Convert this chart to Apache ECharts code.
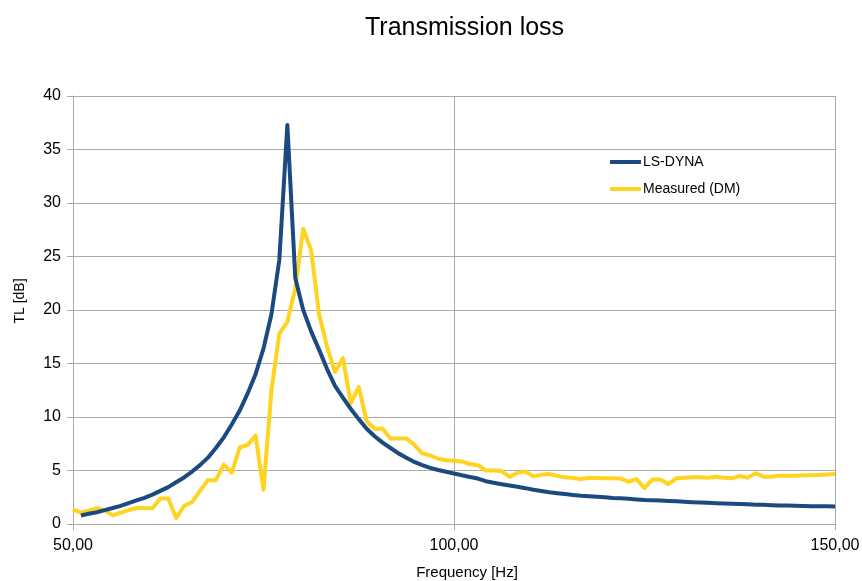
<!DOCTYPE html>
<html>
<head>
<meta charset="utf-8">
<script src="https://cdn.jsdelivr.net/npm/echarts@6/dist/echarts.min.js"></script>
<style>html,body{margin:0;padding:0;background:#fff}#c{width:862px;height:581px}</style>
</head>
<body>
<div id="c"></div>
<script>
const frequencies = [50.00,51.04,52.08,53.13,54.17,55.21,56.25,57.29,58.33,59.38,60.42,61.46,62.50,63.54,64.58,65.63,66.67,67.71,68.75,69.79,70.83,71.88,72.92,73.96,75.00,76.04,77.08,78.13,79.17,80.21,81.25,82.29,83.33,84.38,85.42,86.46,87.50,88.54,89.58,90.63,91.67,92.71,93.75,94.79,95.83,96.88,97.92,98.96,100.00,101.04,102.08,103.13,104.17,105.21,106.25,107.29,108.33,109.38,110.42,111.46,112.50,113.54,114.58,115.63,116.67,117.71,118.75,119.79,120.83,121.88,122.92,123.96,125.00,126.04,127.08,128.13,129.17,130.21,131.25,132.29,133.33,134.38,135.42,136.46,137.50,138.54,139.58,140.63,141.67,142.71,143.75,144.79,145.83,146.88,147.92,148.96,150.00];
const lsDyna = [null,0.8,0.95,1.1,1.3,1.5,1.7,1.95,2.2,2.45,2.75,3.1,3.45,3.9,4.35,4.9,5.5,6.2,7.1,8.1,9.3,10.6,12.2,14.0,16.4,19.6,24.7,37.3,23.0,20.0,18.0,16.3,14.5,12.9,11.8,10.75,9.8,8.9,8.2,7.6,7.1,6.6,6.2,5.8,5.5,5.25,5.05,4.88,4.72,4.55,4.4,4.25,4.0,3.85,3.72,3.6,3.48,3.35,3.2,3.08,2.97,2.88,2.8,2.72,2.65,2.6,2.55,2.5,2.44,2.4,2.35,2.3,2.25,2.22,2.19,2.16,2.12,2.08,2.04,2.01,1.98,1.95,1.92,1.89,1.86,1.84,1.81,1.79,1.76,1.74,1.72,1.7,1.68,1.67,1.66,1.65,1.64];
const measured = [1.37,1.05,1.25,1.47,1.3,0.8,1.05,1.3,1.5,1.5,1.47,2.38,2.38,0.55,1.68,2.05,3.1,4.1,4.1,5.55,4.8,7.15,7.4,8.25,3.2,12.5,17.8,18.9,22.0,27.6,25.6,19.6,16.6,14.2,15.5,11.3,12.8,9.6,8.9,8.9,8.0,8.0,8.0,7.4,6.6,6.4,6.1,5.95,5.9,5.85,5.6,5.5,5.0,5.0,4.95,4.4,4.8,4.9,4.45,4.6,4.67,4.5,4.36,4.3,4.2,4.33,4.3,4.28,4.27,4.25,3.95,4.2,3.35,4.17,4.17,3.72,4.27,4.33,4.36,4.36,4.33,4.42,4.33,4.27,4.49,4.33,4.74,4.42,4.42,4.52,4.5,4.5,4.55,4.55,4.58,4.62,4.67];
const seriesNames = ['LS-DYNA','Measured (DM)'];
const titleText = 'Transmission loss';
const xName = 'Frequency [Hz]';
const yName = 'TL [dB]';

const chart = echarts.init(document.getElementById('c'), null, {renderer:'canvas'});
const font = 'Liberation Sans, Arial, sans-serif';
const gridColor = '#aaaaaa';
chart.setOption({
  animation:false,
  backgroundColor:'#fff',
  textStyle:{fontFamily:font},
  title:{text:titleText,left:360,top:11,textStyle:{fontFamily:font,fontSize:25,fontWeight:'normal',color:'#000'}},
  legend:{orient:'vertical',left:605,top:150,itemWidth:31,itemHeight:4,itemGap:13,icon:'rect',
    textStyle:{fontFamily:font,fontSize:14,color:'#000',padding:[0,0,0,-3]},data:seriesNames},
  grid:{left:73,right:27,top:96,bottom:57,containLabel:false,outerBoundsMode:'none'},
  xAxis:{type:'value',min:50,max:150,interval:50,name:xName,nameLocation:'middle',nameGap:41,
    nameTextStyle:{fontFamily:font,fontSize:15,color:'#000',padding:[0,0,0,26]},
    axisLine:{show:true,lineStyle:{color:gridColor,width:1}},
    axisTick:{show:true,length:6,lineStyle:{color:gridColor}},
    axisLabel:{fontFamily:font,fontSize:16,color:'#000',margin:14,formatter:v=>v.toFixed(2).replace('.',',')},
    splitLine:{show:true,lineStyle:{color:gridColor,width:1}}},
  yAxis:{type:'value',min:0,max:40,interval:5,name:yName,nameLocation:'middle',nameGap:46,nameRotate:90,
    nameTextStyle:{fontFamily:font,fontSize:14,color:'#000',padding:[0,0,0,18]},
    axisLine:{show:true,lineStyle:{color:gridColor,width:1}},
    axisTick:{show:true,length:6,lineStyle:{color:gridColor}},
    axisLabel:{fontFamily:font,fontSize:16,color:'#000',margin:12},
    splitLine:{show:true,lineStyle:{color:gridColor,width:1}}},
  series:[
    {name:seriesNames[0],type:'line',showSymbol:false,symbol:'none',color:'#1b4a80',
      lineStyle:{width:4,color:'#1b4a80',join:'round'},
      data:frequencies.map((f,i)=>[f,lsDyna[i]]),z:3},
    {name:seriesNames[1],type:'line',showSymbol:false,symbol:'none',color:'#ffd320',
      lineStyle:{width:4,color:'#ffd320',join:'round'},
      data:frequencies.map((f,i)=>[f,measured[i]]),z:2}
  ]
});
</script>
</body>
</html>
